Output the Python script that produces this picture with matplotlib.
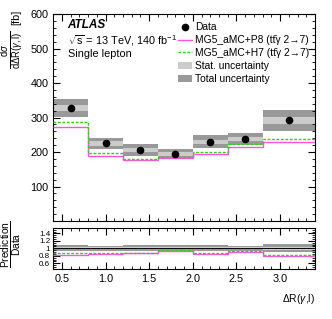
import matplotlib
matplotlib.use("Agg")
import matplotlib.pyplot as plt
import numpy as np
from matplotlib.patches import Patch
from matplotlib.lines import Line2D
from matplotlib.ticker import MultipleLocator

plt.rcParams['font.family'] = ['Liberation Sans', 'DejaVu Sans']
plt.rcParams['mathtext.fontset'] = 'custom'
plt.rcParams['mathtext.rm'] = 'Liberation Sans'
plt.rcParams['mathtext.it'] = 'Liberation Sans:italic'
plt.rcParams['mathtext.bf'] = 'Liberation Sans:bold'
plt.rcParams['mathtext.sf'] = 'Liberation Sans'

# ---- data ----
edges = [0.4, 0.8, 1.2, 1.6, 2.0, 2.4, 2.8, 3.4]
data = [328, 225, 205, 194, 230, 238, 292]
stat_unc = [8, 6, 6, 5, 6, 6, 10]
tot_unc = [27, 17, 17, 15, 18, 17, 30]
pred_p8 = [272, 188, 177, 182, 194, 214, 230]
pred_h7 = [286, 196, 181, 186, 201, 222, 239]

label_p8 = 'MG5_aMC+P8 (tt\u0304γ 2→7)'
label_h7 = 'MG5_aMC+H7 (tt\u0304γ 2→7)'

c_p8 = '#ff55dd'
c_h7 = '#33cc22'
c_tot = '#999999'
c_stat = '#cccccc'

edges_a = np.array(edges)
data_a = np.array(data, float)
centers = 0.5 * (edges_a[:-1] + edges_a[1:])
widths = np.diff(edges_a)

fig = plt.figure(figsize=(3.32, 3.19), dpi=100)
ax = fig.add_axes([0.160, 0.307, 0.789, 0.649])
rax = fig.add_axes([0.160, 0.157, 0.789, 0.129], sharex=ax)

dash = (0, (2, 1.2))

# main panel
ax.bar(centers, 2 * np.array(tot_unc), width=widths, bottom=data_a - np.array(tot_unc),
       color=c_tot, edgecolor='none', zorder=1)
ax.bar(centers, 2 * np.array(stat_unc), width=widths, bottom=data_a - np.array(stat_unc),
       color=c_stat, edgecolor='none', zorder=2)
ax.stairs(pred_p8, edges, baseline=None, color=c_p8, lw=1.0, zorder=3)
ax.stairs(pred_h7, edges, baseline=None, color=c_h7, lw=1.0, ls=dash, zorder=4)
ax.plot(centers, data, 'o', color='black', ms=4.5, zorder=5)

ax.set_xlim(0.4, 3.4)
ax.set_ylim(0, 600)
ax.xaxis.set_major_locator(MultipleLocator(0.5))
ax.xaxis.set_minor_locator(MultipleLocator(0.1))
ax.set_yticks([100, 200, 300, 400, 500, 600])
ax.yaxis.set_minor_locator(MultipleLocator(20))
ax.tick_params(labelbottom=False)

# y label of main panel (fraction + unit)
fig.text(12.5 / 332, 1 - 50 / 319,
         r'$\frac{\mathrm{d}\sigma}{\mathrm{d}\Delta\mathrm{R}(\gamma,\mathrm{l})}$',
         rotation=90, fontsize=9.8, ha='center', va='center')
fig.text(16.5 / 332, 1 - 17 / 319, '[fb]', rotation=90, fontsize=7.8, ha='center', va='center')

ax.text(0.055, 0.945, 'ATLAS', transform=ax.transAxes, fontsize=8.5, fontweight='bold',
        fontstyle='italic', va='center')
ax.text(0.055, 0.873, r'$\sqrt{\mathrm{s}}$ = 13 TeV, 140 fb$^{\mathrm{-1}}$', transform=ax.transAxes,
        fontsize=7.8, va='center')
ax.text(0.055, 0.805, 'Single lepton', transform=ax.transAxes, fontsize=7.8, va='center')

handles = [
    Line2D([], [], marker='o', color='black', ls='none', ms=4.5),
    Line2D([], [], color=c_p8, lw=1.0),
    Line2D([], [], color=c_h7, lw=1.0, ls=dash),
    Patch(facecolor=c_stat, edgecolor='none'),
    Patch(facecolor=c_tot, edgecolor='none'),
]
labels = ['Data', label_p8, label_h7, 'Stat. uncertainty', 'Total uncertainty']
ax.legend(handles, labels, loc='upper right', bbox_to_anchor=(1.0, 0.99), frameon=False,
          fontsize=7.4, handlelength=1.3, handletextpad=0.3, labelspacing=0.28,
          borderaxespad=0.2)

# ratio panel
rel_tot = np.array(tot_unc) / data_a
rel_stat = np.array(stat_unc) / data_a
rax.bar(centers, 2 * rel_tot, width=widths, bottom=1 - rel_tot, color=c_tot, edgecolor='none', zorder=1)
rax.bar(centers, 2 * rel_stat, width=widths, bottom=1 - rel_stat, color=c_stat, edgecolor='none', zorder=2)
rax.axhline(1.0, color='black', lw=0.7, zorder=3)
rax.stairs(np.array(pred_p8) / data_a, edges, baseline=None, color=c_p8, lw=1.0, zorder=4)
rax.stairs(np.array(pred_h7) / data_a, edges, baseline=None, color=c_h7, lw=1.0, ls=dash, zorder=5)
rax.set_ylim(0.45, 1.55)
rax.set_yticks([0.6, 0.8, 1.0, 1.2, 1.4])
rax.set_yticklabels(['0.6', '0.8', '1', '1.2', '1.4'])
rax.yaxis.set_minor_locator(MultipleLocator(0.05))
fig.text(11.5 / 332, 1 - 244 / 319, r'$\frac{\mathrm{Prediction}}{\mathrm{Data}}$',
         rotation=90, fontsize=10.5, ha='center', va='center')
rax.set_xlabel(r'$\Delta$R($\gamma$,l)', fontsize=7.5)
rax.xaxis.set_label_coords(1.0, -0.55)
rax.xaxis.label.set_horizontalalignment('right')

for a in (ax, rax):
    a.tick_params(which='both', direction='in', top=True, right=True)
    a.tick_params(which='major', length=5, width=0.8)
    a.tick_params(which='minor', length=2.5, width=0.6)
    for s in a.spines.values():
        s.set_linewidth(0.8)
ax.tick_params(axis='y', labelsize=7.8)
rax.tick_params(axis='y', labelsize=5.8, pad=2)
rax.tick_params(axis='x', labelsize=7.8)

fig.savefig('out.png', dpi=100)
